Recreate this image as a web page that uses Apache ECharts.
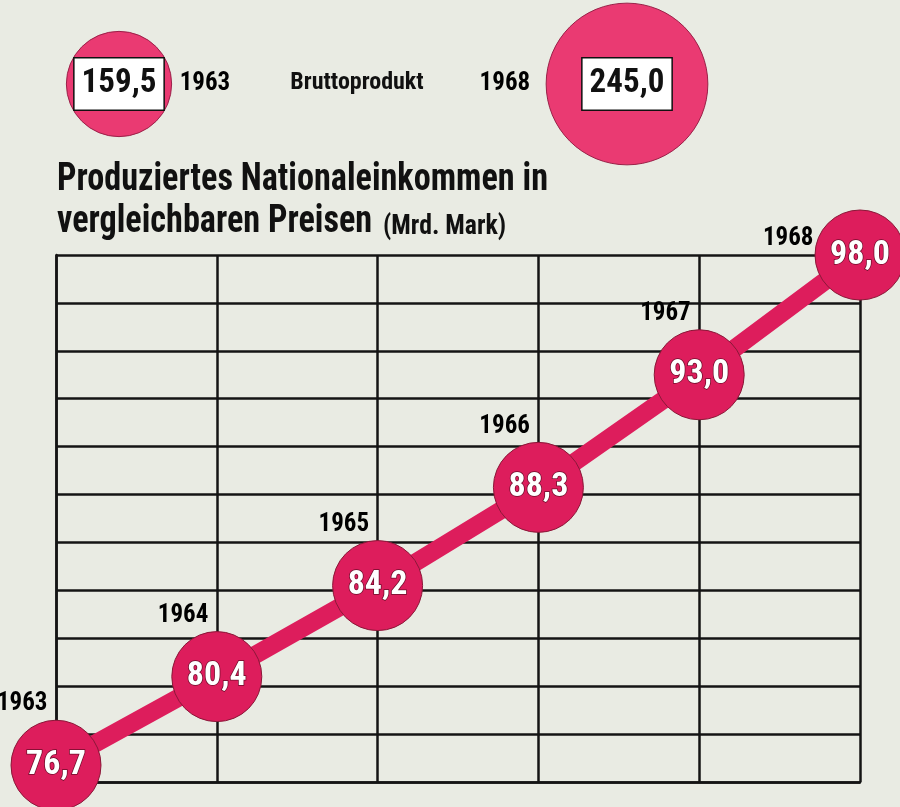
<!DOCTYPE html>
<html>
<head>
<meta charset="utf-8">
<script src="https://cdn.jsdelivr.net/npm/echarts@6/dist/echarts.min.js"></script>
<style>
  html, body { margin: 0; padding: 0; background: #e9ebe3; }
  #chart { width: 900px; height: 807px; }
</style>
</head>
<body>
<div id="chart"></div>
<script>
// Produziertes Nationaleinkommen (Mrd. Mark)
var years = ['1963', '1964', '1965', '1966', '1967', '1968'];
var income = [76.7, 80.4, 84.2, 88.3, 93.0, 98.0];

// Bruttoprodukt
var bruttoYears = ['1963', '1968'];
var brutto = [159.5, 245.0];

var PINK = '#dd1d5c';
var PINK_LIGHT = '#ea3a72';
var FONT = '"Liberation Sans Narrow", "Roboto Condensed", sans-serif';

function fmt(v) {
  return v.toFixed(1).replace('.', ',');
}

var chart = echarts.init(document.getElementById('chart'));

var gridLine = { color: '#141414', width: 2.5 };

var option = {
  backgroundColor: '#e9ebe3',
  animation: false,
  grid: [
    { left: 56, right: 40, top: 255, bottom: 25 },
    { left: 119, right: 273, top: 0, height: 168 }
  ],
  xAxis: [
    {
      gridIndex: 0,
      type: 'category',
      data: years,
      boundaryGap: false,
      axisLine: { lineStyle: gridLine },
      axisTick: { show: false },
      axisLabel: { show: false },
      splitLine: { show: true, lineStyle: gridLine }
    },
    {
      gridIndex: 1,
      type: 'category',
      data: bruttoYears,
      boundaryGap: false,
      show: false
    }
  ],
  yAxis: [
    {
      gridIndex: 0,
      type: 'value',
      min: 76,
      max: 98,
      interval: 2,
      axisLine: { show: true, lineStyle: gridLine },
      axisTick: { show: false },
      axisLabel: { show: false },
      splitLine: { show: true, lineStyle: gridLine }
    },
    {
      gridIndex: 1,
      type: 'category',
      data: ['Bruttoprodukt'],
      show: false
    }
  ],
  graphic: [
    {
      type: 'text', x: 57, y: 180, scaleX: 0.9,
      style: { text: 'Produziertes Nationaleinkommen in', font: 'bold 38px ' + FONT, fill: '#111', verticalAlign: 'middle' }
    },
    {
      type: 'text', x: 57, y: 222, scaleX: 0.9,
      style: { text: 'vergleichbaren Preisen', font: 'bold 38px ' + FONT, fill: '#111', verticalAlign: 'middle' }
    },
    {
      type: 'text', x: 383, y: 227, scaleX: 0.92,
      style: { text: '(Mrd. Mark)', font: 'bold 28px ' + FONT, fill: '#111', verticalAlign: 'middle' }
    },
    {
      type: 'text', x: 357, y: 83,
      style: { text: 'Bruttoprodukt', font: 'bold 24px ' + FONT, fill: '#111', align: 'center', verticalAlign: 'middle' }
    }
  ],
  series: [
    {
      type: 'line',
      xAxisIndex: 0,
      yAxisIndex: 0,
      data: income,
      z: 3,
      lineStyle: { color: PINK, width: 18 },
      symbol: 'circle',
      symbolSize: 90,
      showSymbol: true,
      showAllSymbol: true,
      clip: false,
      itemStyle: { color: PINK, borderColor: '#8a1838', borderWidth: 1 },
      label: {
        show: true,
        position: 'inside',
        formatter: function (p) { return fmt(p.value); },
        color: '#fff',
        fontFamily: FONT,
        fontWeight: 'bold',
        fontSize: 34,
        textBorderColor: '#6a0c28',
        textBorderWidth: 1.5
      }
    },
    {
      type: 'scatter',
      xAxisIndex: 0,
      yAxisIndex: 0,
      data: income.map(function (v, i) {
        var item = { value: v };
        if (i === years.length - 1) item.label = { offset: [-38, -16] };
        return item;
      }),
      z: 4,
      symbolSize: 1,
      clip: false,
      itemStyle: { color: 'rgba(0,0,0,0)', opacity: 1 },
      label: {
        show: true,
        position: 'left',
        distance: 8,
        offset: [0, -61],
        formatter: function (p) { return years[p.dataIndex]; },
        color: '#000',
        fontFamily: FONT,
        fontWeight: 'bold',
        fontSize: 25
      }
    },
    {
      type: 'scatter',
      xAxisIndex: 1,
      yAxisIndex: 1,
      data: brutto.map(function (v, i) { return [i, 0, v]; }),
      symbolSize: function (d) { return d[2] * 0.66; },
      itemStyle: { color: PINK_LIGHT, opacity: 1, borderColor: '#9a2048', borderWidth: 1 },
      label: {
        show: true,
        position: 'inside',
        formatter: function (p) { return fmt(p.value[2]); },
        color: '#111',
        fontFamily: FONT,
        fontWeight: 'bold',
        fontSize: 33,
        backgroundColor: '#fff',
        borderColor: '#111',
        borderWidth: 1.5,
        padding: [10, 7, 8, 7]
      }
    },
    {
      type: 'scatter',
      xAxisIndex: 1,
      yAxisIndex: 1,
      data: brutto.map(function (v, i) {
        return {
          value: [i, 0, v],
          label: i === 0 ? { position: 'right', distance: 8 } : { position: 'left', distance: 16 }
        };
      }),
      symbolSize: function (d) { return d[2] * 0.66; },
      itemStyle: { color: 'rgba(0,0,0,0)', opacity: 1 },
      label: {
        show: true,
        formatter: function (p) { return bruttoYears[p.dataIndex]; },
        color: '#000',
        fontFamily: FONT,
        fontWeight: 'bold',
        fontSize: 25
      }
    }
  ]
};

chart.setOption(option);
</script>
</body>
</html>
